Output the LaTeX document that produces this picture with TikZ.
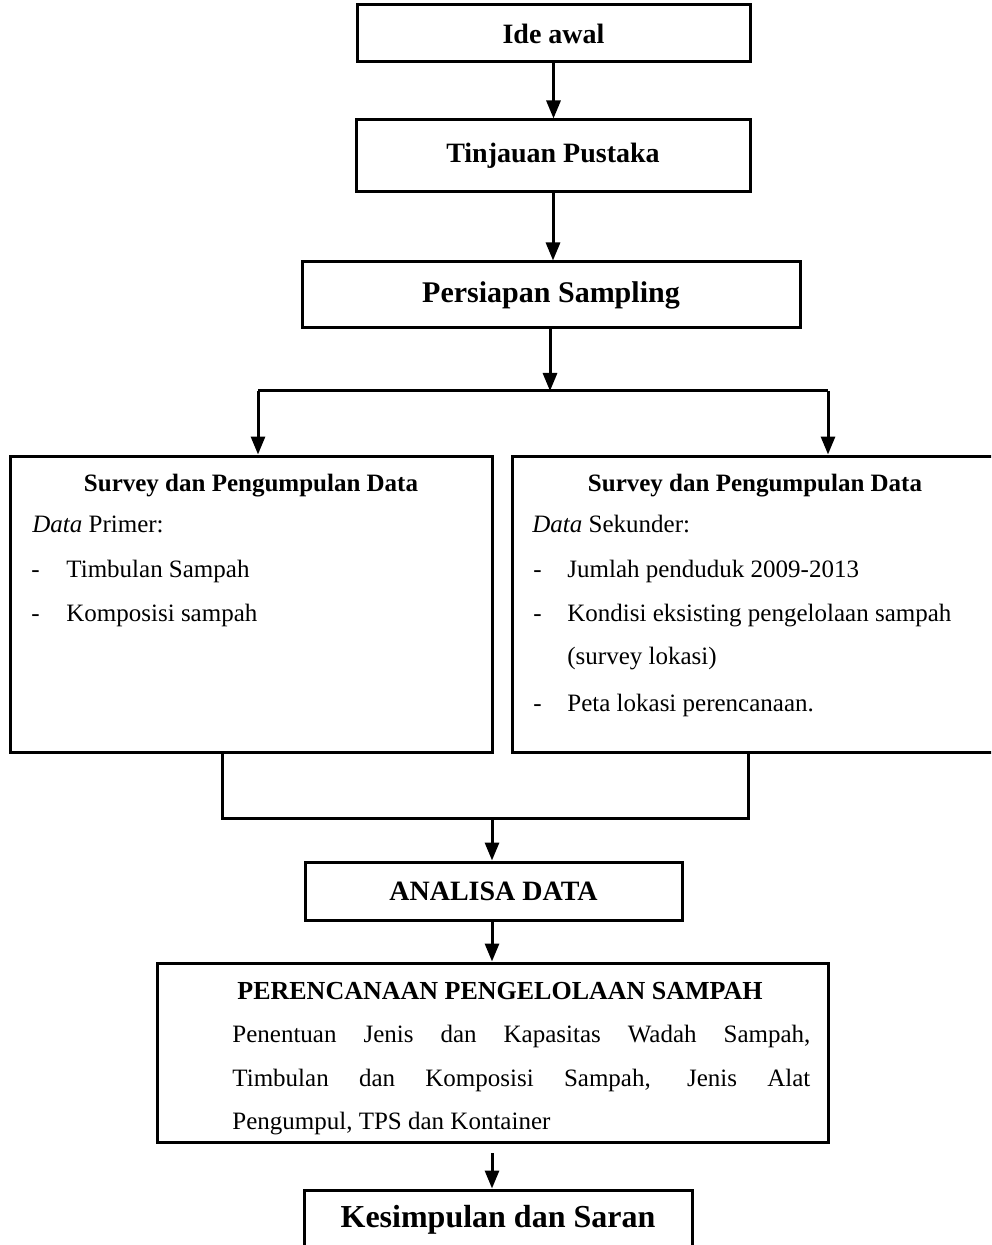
\documentclass[tikz,border=0pt]{standalone}
\usepackage{fontspec}
\setmainfont{Liberation Serif}
\usepackage{tikz}
\usetikzlibrary{arrows.meta, calc}
\tikzset{
  box/.style={draw, line width=1.5pt, rectangle, inner sep=0pt},
  txt/.style={inner sep=0pt, anchor=base west, font=\fontsize{12.5}{14}\selectfont},
  head/.style={inner sep=0pt, anchor=base, font=\fontsize{12.5}{14}\selectfont\bfseries},
  conn/.style={line width=1.5pt},
  flow/.style={line width=1.5pt, -{Triangle[length=9pt,width=7pt]}}
}

\begin{document}
\begin{tikzpicture}[x=0.5pt, y=-0.5pt]
  \useasboundingbox (0,0) rectangle (991,1245);
  \clip (0,0) rectangle (991,1245);

  % main column
  \node[box, minimum width=196.5pt, minimum height=28.5pt, font=\fontsize{14}{16}\selectfont\bfseries] (ide) at (553.5,33.5) {Ide awal};
  \node[box, minimum width=197pt, minimum height=36pt, font=\fontsize{14}{16}\selectfont\bfseries] (tinjauan) at (553,156) {Tinjauan Pustaka};
  \node[box, minimum width=249pt, minimum height=33pt, font=\fontsize{15}{17}\selectfont\bfseries] (persiapan) at (551,295) {Persiapan Sampling};

  % survey boxes
  \node[box, minimum width=241pt, minimum height=148pt] (primer) at (251,604) {};
  \node[box, minimum width=244pt, minimum height=148pt] (sekunder) at (756,604) {};

  \node[head] (primerhead) at (251,491) {Survey dan Pengumpulan Data};
  \node[txt] (primerlbl) at (32,532) {\textit{Data} Primer:};
  \node[txt] (pdash1) at (31,577) {-};
  \node[txt] (pitem1) at (66,577) {Timbulan Sampah};
  \node[txt] (pdash2) at (31,621) {-};
  \node[txt] (pitem2) at (66,621) {Komposisi sampah};

  \node[head] (sekunderhead) at (755,491) {Survey dan Pengumpulan Data};
  \node[txt] (sekunderlbl) at (532,532) {\textit{Data} Sekunder:};
  \node[txt] (sdash1) at (533,577) {-};
  \node[txt] (sitem1) at (567,577) {Jumlah penduduk 2009-2013};
  \node[txt] (sdash2) at (533,621) {-};
  \node[txt] (sitem2) at (567,621) {Kondisi eksisting pengelolaan sampah};
  \node[txt] (sitem2b) at (567,664) {(survey lokasi)};
  \node[txt] (sdash3) at (533,711) {-};
  \node[txt] (sitem3) at (567,711) {Peta lokasi perencanaan.};

  % analysis and planning
  \node[box, minimum width=188.5pt, minimum height=29pt, font=\fontsize{14}{16}\selectfont\bfseries] (analisa) at (493.5,891) {ANALISA DATA};
  \node[box, minimum width=335.5pt, minimum height=89.5pt] (rencana) at (492.5,1052.5) {};
  \node[txt, font=\fontsize{13}{15}\selectfont\bfseries] (rencanahead) at (237,999) {PERENCANAAN PENGELOLAAN SAMPAH};
  \node[txt] (rencana1) at (232,1042) {\makebox[289pt][s]{Penentuan Jenis dan Kapasitas Wadah Sampah,}};
  \node[txt] (rencana2) at (232,1086) {\makebox[289pt][s]{Timbulan dan Komposisi Sampah, Jenis Alat}};
  \node[txt] (rencana3) at (232,1129) {Pengumpul, TPS dan Kontainer};
  \node[box, minimum width=194pt, minimum height=30pt, font=\fontsize{16}{18}\selectfont\bfseries] (saran) at (498,1220) {Kesimpulan dan Saran};

  % connectors
  \coordinate (split) at (550,391);
  \coordinate (splitL) at (258,391);
  \coordinate (splitR) at (828,391);
  \coordinate (joinL) at (222,818);
  \coordinate (joinR) at (748,818);
  \coordinate (join) at (492,818);
  \coordinate (gap) at (492,1153);

  \draw[flow] (ide.south) -- (ide.south |- tinjauan.north);
  \draw[flow] (tinjauan.south) -- (tinjauan.south |- persiapan.north);
  \draw[flow] (persiapan.south -| split) -- (split);
  \draw[conn] (splitL) -- (splitR);
  \draw[flow] (splitL) -- (splitL |- primer.north);
  \draw[flow] (splitR) -- (splitR |- sekunder.north);
  \draw[conn] (joinL |- primer.south) -- (joinL) -- (joinR) -- (joinR |- sekunder.south);
  \draw[flow] (join) -- (join |- analisa.north);
  \draw[flow] (join |- analisa.south) -- (join |- rencana.north);
  \draw[flow] (gap) -- (gap |- saran.north);
\end{tikzpicture}
\end{document}
